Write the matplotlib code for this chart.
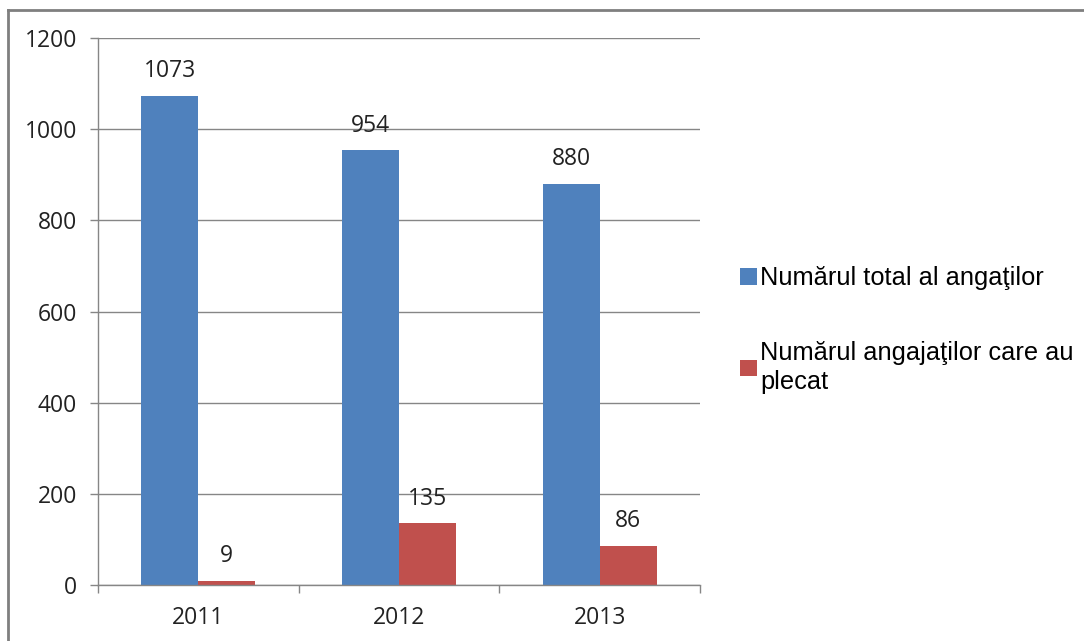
import matplotlib
matplotlib.use("Agg")
import matplotlib.pyplot as plt
from matplotlib.lines import Line2D
import numpy as np

years = ["2011", "2012", "2013"]
total = [1073, 954, 880]
left = [9, 135, 86]
series_labels = ["Numărul total al angaţilor", "Numărul angajaţilor care au\nplecat"]
yticks = [0, 200, 400, 600, 800, 1000, 1200]

W, H = 1084, 641
fig = plt.figure(figsize=(W / 100, H / 100), dpi=100)
ax = fig.add_axes([98 / W, 1 - 585 / H, (700 - 98) / W, (585 - 38) / H])

x = np.arange(len(years))
bw = 0.284
b1 = ax.bar(x - bw / 2, total, bw, color="#4F81BD", label=series_labels[0], zorder=3)
b2 = ax.bar(x + bw / 2, left, bw, color="#C0504D", label=series_labels[1], zorder=3)

tick_font = dict(family=["Open Sans", "DejaVu Sans"], size=16.5)
for bars, vals in ((b1, total), (b2, left)):
    for rect, v in zip(bars, vals):
        ax.annotate(str(v), (rect.get_x() + rect.get_width() / 2, v),
                    xytext=(0, 9), textcoords="offset points",
                    ha="center", va="bottom", color="#222222", **tick_font)

ax.set_xlim(-0.5, len(years) - 0.5)
ax.set_ylim(0, 1200)
ax.set_yticks(yticks)
ax.set_yticklabels([str(t) for t in yticks], **tick_font)
ax.set_xticks(x)
ax.set_xticklabels(years, **tick_font)
ax.set_xticks(np.arange(-0.5, len(years)), minor=True)
ax.tick_params(axis="x", which="major", length=0, pad=15, colors="#222222")
ax.tick_params(axis="x", which="minor", length=6, width=1, color="#868686", direction="out")
ax.tick_params(axis="y", length=6, width=1, color="#868686", pad=9, labelcolor="#222222")

ax.yaxis.grid(True, color="#868686", linewidth=1, zorder=0)
for s in ("top", "right"):
    ax.spines[s].set_visible(False)
for s in ("left", "bottom"):
    ax.spines[s].set_color("#868686")
    ax.spines[s].set_linewidth(1)
ax.spines["bottom"].set_zorder(4)

leg = fig.legend(handles=[b1, b2], loc="center left",
                 bbox_to_anchor=(740 / W, 1 - 330 / H),
                 frameon=False, prop=dict(family=["Liberation Sans", "DejaVu Sans"], size=18.3),
                 handlelength=0.65, handleheight=0.65, handletextpad=0.15,
                 labelspacing=2.0, borderpad=0, borderaxespad=0)
for t in leg.get_texts():
    t.set_linespacing(1.25)

# figure frame (left and top edges)
fig.add_artist(Line2D([8 / W, 8 / W], [0, 1 - 10 / H], transform=fig.transFigure,
                      color="#7f7f7f", linewidth=2))
fig.add_artist(Line2D([8 / W, 1], [1 - 10 / H, 1 - 10 / H], transform=fig.transFigure,
                      color="#7f7f7f", linewidth=2))

fig.savefig("out.png", dpi=100, facecolor="white")
